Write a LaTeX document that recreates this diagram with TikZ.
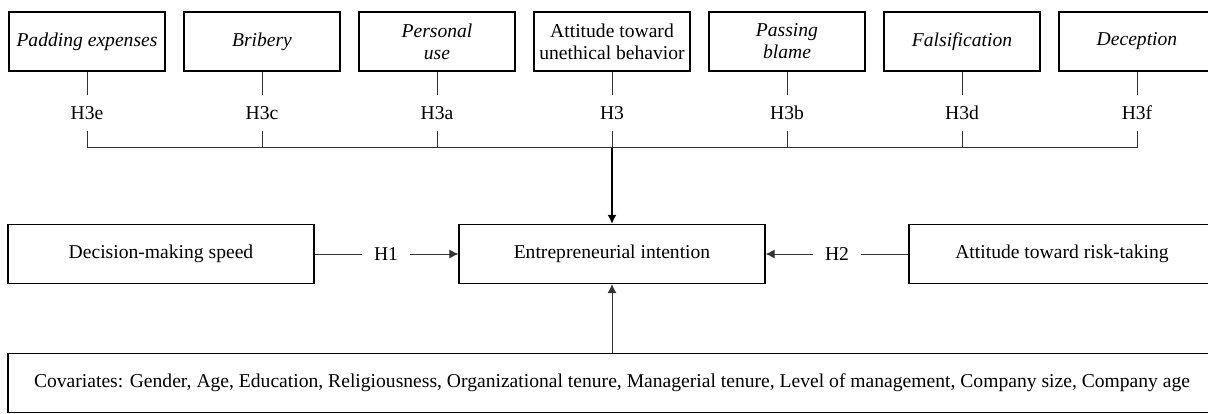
\documentclass[tikz,border=0pt]{standalone}
\usepackage{fontspec}
\setmainfont{Liberation Serif}
\usetikzlibrary{arrows.meta}

\begin{document}
\begin{tikzpicture}[x=1pt,y=1pt,>={Latex[length=9pt,width=9pt]},font=\fontsize{19.6}{22}\selectfont,
  box/.style={draw,line width=1.2pt,align=center,inner sep=0pt,minimum height=59},
  topbox/.style={box,minimum width=156},
  hlab/.style={inner sep=0pt,minimum width=47,minimum height=35},
  link/.style={draw=black!80,line width=1pt},
  mainlink/.style={draw=black,line width=2pt}]
\clip (0,0) rectangle (1208,413);
\coordinate (bus) at (612,265);
% antecedents of the unethical attitude, each with its own path label
\foreach \n/\x/\t/\h in {padding/87/\textit{Padding expenses}/H3e,
                         bribery/262/\textit{Bribery}/H3c,
                         personal/437/{\textit{Personal}\\\textit{use}}/H3a,
                         attitude/612/{Attitude toward\\unethical behavior}/H3,
                         passing/787/{\textit{Passing}\\\textit{blame}}/H3b,
                         falsif/962/\textit{Falsification}/H3d,
                         deception/1137/\textit{Deception}/H3f}{
  \node[topbox] (\n) at (\x,371.5) {\t};
  \node[hlab] (h\n) at (\x,300) {\h};
  \draw[link] (\n) -- (h\n);
  \draw[link] (h\n) -- (h\n |- bus);
}
\draw[link] (hpadding |- bus) -- (hdeception |- bus);
% middle row
\node[box,minimum width=306] (speed) at (161,159) {Decision-making speed};
\node[box,minimum width=306] (intention) at (612,159) {Entrepreneurial intention};
\node[box,minimum width=306] (risk) at (1062,159) {Attitude toward risk-taking};
\node[hlab] (h1) at (386,159) {H1};
\node[hlab] (h2) at (837,159) {H2};
\node[box,minimum width=1208] (covariates) at (612,30) {Covariates: Gender, Age, Education, Religiousness, Organizational tenure, Managerial tenure, Level of management, Company size, Company age};
\draw[mainlink,->] (bus) -- (intention);
\draw[link] (speed) -- (h1);
\draw[link,->] (h1) -- (intention);
\draw[link] (risk) -- (h2);
\draw[link,->] (h2) -- (intention);
\draw[link,->] (covariates) -- (intention);
\end{tikzpicture}
\end{document}
